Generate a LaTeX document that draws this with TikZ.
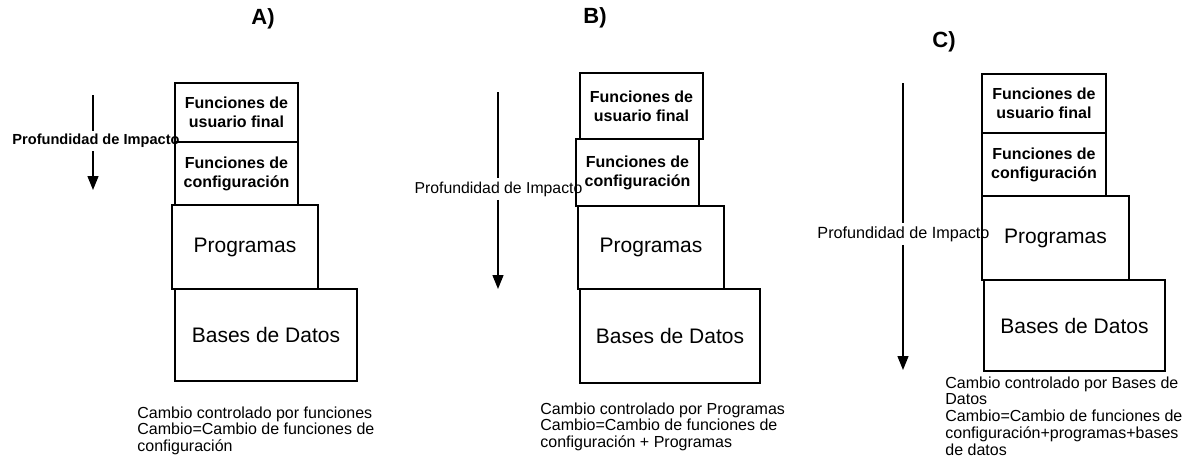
\documentclass[tikz,border=0pt]{standalone}
\usepackage{fontspec}
\setmainfont{Liberation Sans}
\usetikzlibrary{arrows.meta}

\begin{document}
\begin{tikzpicture}
  [x=0.5pt,y=-0.5pt,>={Triangle[length=7pt,width=5.5pt]},
  	capa/.style={draw,line width=0.9pt,inner sep=0pt,align=center},
  	funcion/.style={capa,font=\fontsize{8}{9.5}\selectfont\bfseries},
  	grande/.style={capa,font=\fontsize{10.5}{12}\selectfont},
  	titulo/.style={font=\fontsize{11}{13}\selectfont\bfseries},
  	impacto/.style={inner sep=1.5pt,font=\fontsize{7.9}{9}\selectfont},
  	nota/.style={anchor=north west,inner sep=0pt,align=left,
  		font=\fontsize{8}{8.4}\selectfont}
  ]
  \useasboundingbox (0,0) rectangle (1201,468);

  % A)
  \node [titulo] (tA) at (263,19) {A)};
  \node [funcion,minimum width=61.5pt,minimum height=29.5pt] (uA) at (236.5,112.5) {Funciones de\\usuario final};
  \node [funcion,minimum width=61.5pt,minimum height=31.5pt] (cA) at (236.5,173.5) {Funciones de\\configuración};
  \node [grande,minimum width=73pt,minimum height=42pt] (pA) at (245,247) {Programas};
  \node [grande,minimum width=91pt,minimum height=46pt] (bA) at (266,335) {Bases de Datos};
  \node [impacto,font=\fontsize{7.3}{9}\selectfont\bfseries] (profA) at (96,141) {Profundidad de Impacto};
  \coordinate (iniA) at (93,95);
  \coordinate (finA) at (93,190);
  \draw [line width=0.7pt] (iniA) -- (iniA |- profA.north);
  \draw [->,line width=0.7pt] (finA |- profA.south) -- (finA);
  \node [nota] (capA) at (137,406) {Cambio controlado por funciones\\Cambio=Cambio de funciones de\\configuración};

  % B)
  \node [titulo] (tB) at (595,18) {B)};
  \node [funcion,minimum width=61.5pt,minimum height=33pt] (uB) at (641.5,106) {Funciones de\\usuario final};
  \node [funcion,minimum width=61.5pt,minimum height=33.5pt] (cB) at (637.5,172.5) {Funciones de\\configuración};
  \node [grande,minimum width=73pt,minimum height=41.5pt] (pB) at (651,247.5) {Programas};
  \node [grande,minimum width=90pt,minimum height=47pt] (bB) at (670,336) {Bases de Datos};
  \node [impacto] (profB) at (498.5,189) {Profundidad de Impacto};
  \coordinate (iniB) at (498,92);
  \coordinate (finB) at (498,289);
  \draw [line width=0.7pt] (iniB) -- (iniB |- profB.north);
  \draw [->,line width=0.7pt] (finB |- profB.south) -- (finB);
  \node [nota] (capB) at (540,402) {Cambio controlado por Programas\\Cambio=Cambio de funciones de\\configuración + Programas};

  % C)
  \node [titulo] (tC) at (944,42) {C)};
  \node [funcion,minimum width=62pt,minimum height=29.5pt] (uC) at (1044,103.5) {Funciones de\\usuario final};
  \node [funcion,minimum width=62pt,minimum height=31.5pt] (cC) at (1044,164.5) {Funciones de\\configuración};
  \node [grande,minimum width=73.5pt,minimum height=42pt] (pC) at (1055.5,238) {Programas};
  \node [grande,minimum width=90.5pt,minimum height=45.5pt] (bC) at (1074.5,325.5) {Bases de Datos};
  \node [impacto,font=\fontsize{8.1}{9}\selectfont] (profC) at (903.5,234) {Profundidad de Impacto};
  \coordinate (iniC) at (903,83);
  \coordinate (finC) at (903,370);
  \draw [line width=0.7pt] (iniC) -- (iniC |- profC.north);
  \draw [->,line width=0.7pt] (finC |- profC.south) -- (finC);
  \node [nota] (capC) at (945,376) {Cambio controlado por Bases de\\Datos\\Cambio=Cambio de funciones de\\configuración+programas+bases\\de datos};
\end{tikzpicture}
\end{document}
